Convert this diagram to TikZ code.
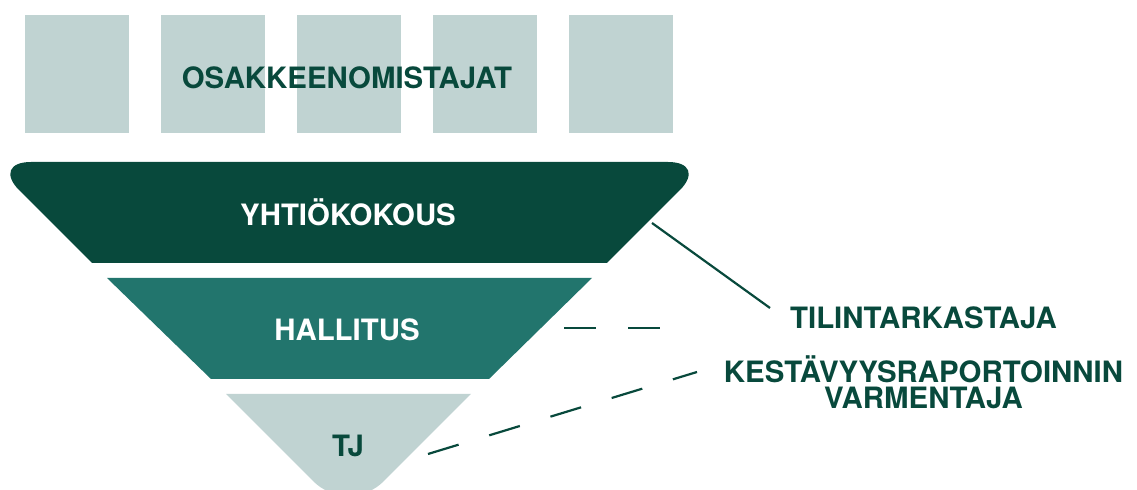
\documentclass[tikz,border=0pt]{standalone}
\usepackage{fontspec}
\setmainfont{TeX Gyre Heros}
\definecolor{darkgreen}{RGB}{8,73,60}
\definecolor{midgreen}{RGB}{34,117,109}
\definecolor{palegreen}{RGB}{192,211,210}

\begin{document}
\begin{tikzpicture}[x=0.5pt,y=-0.5pt,
    caption/.style={font=\fontsize{14.7}{13}\selectfont\bfseries, inner sep=0pt, anchor=base},
    link/.style={darkgreen, line width=1.1pt},
    dashlink/.style={link, dash pattern=on 16pt off 16pt}]
            \useasboundingbox (0,0) rectangle (1137,490);
            \clip (0,0) rectangle (1137,490);

            % owners row
            \foreach \x in {25,161,297,433,569}
                \fill[palegreen] (\x,15) rectangle ++(104,118);
            \node[caption, text=darkgreen] (owners) at (347,89) {OSAKKEENOMISTAJAT};

            % funnel
            \fill[darkgreen] (92,263) [rounded corners=20pt] -- (-9,162) -- (708,162) [sharp corners] -- (607,263) -- cycle;
            \fill[midgreen] (107,278) -- (592,278) -- (489,379) -- (211,379) -- cycle;
            \fill[palegreen] (226,394) -- (471,394) [rounded corners=25pt] -- (348.5,516.5) [sharp corners] -- cycle;

            \node[caption, text=white] (meeting) at (348,226) {YHTIÖKOKOUS};
            \node[caption, text=white] (board) at (347,341) {HALLITUS};
            \node[caption, text=darkgreen] (ceo) at (348,457) {TJ};

            % outside parties
            \node[caption, text=darkgreen] (auditor) at (923.5,329) {TILINTARKASTAJA};
            \node[caption, text=darkgreen, align=center] (assurer) at (923.5,409) {KESTÄVYYSRAPORTOINNIN\\VARMENTAJA};

            \coordinate (A1) at (652,223);
            \coordinate (A2) at (770,308);
            \coordinate (B1) at (564,328);
            \coordinate (B2) at (662,328);
            \coordinate (C1) at (428,454);
            \coordinate (C2) at (697,372);
            \draw[link] (A1) -- (A2);
            \draw[dashlink] (B1) -- (B2);
            \draw[dashlink] (C1) -- (C2);
        \end{tikzpicture}
\end{document}
